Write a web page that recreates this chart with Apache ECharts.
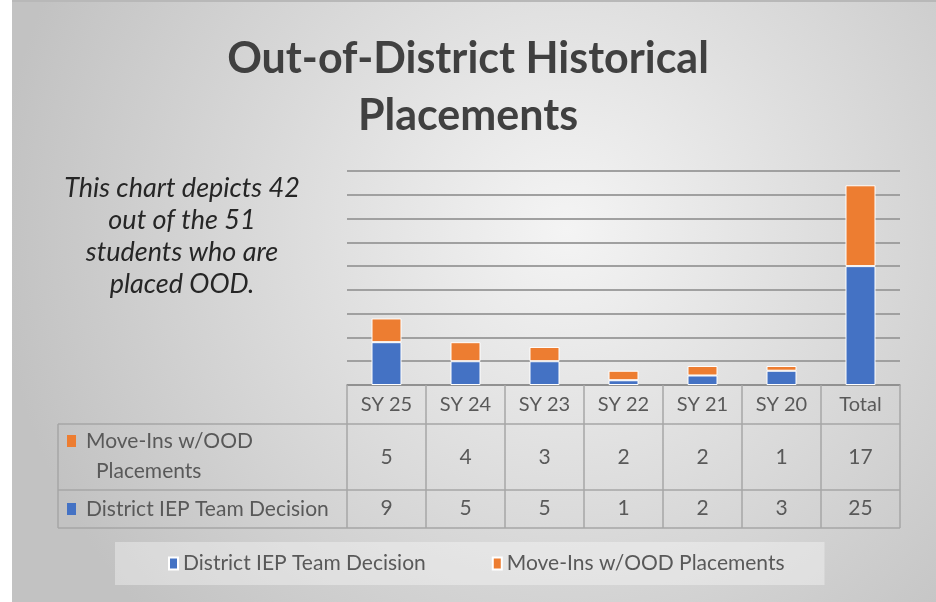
<!DOCTYPE html>
<html>
<head>
<meta charset="utf-8">
<script src="https://cdn.jsdelivr.net/npm/echarts@6/dist/echarts.min.js"></script>
<style>
  html, body { margin: 0; padding: 0; background: #fff; }
  #chart { width: 936px; height: 602px; }
</style>
</head>
<body>
<div id="chart"></div>
<script>
// chart data
const categories = ['SY 25', 'SY 24', 'SY 23', 'SY 22', 'SY 21', 'SY 20', 'Total']
const districtDecision = [9, 5, 5, 1, 2, 3, 25]
const moveIns = [5, 4, 3, 2, 2, 1, 17]
const seriesNames = ['District IEP Team Decision', 'Move-Ins w/OOD Placements']

const BLUE = '#4472c4'
const ORANGE = '#ed7d31'
const TEXT = '#595959'
const LINE = '#a6a6a6'
const FONT = 'Lato, "Open Sans", sans-serif'

const chart = echarts.init(document.getElementById('chart'))

// extra x axes used as the data table rows
function tableRow(values, offset) {
  return {
    type: 'category',
    data: categories,
    position: 'bottom',
    offset: offset,
    axisLine: { show: false },
    axisTick: { show: false },
    axisLabel: {
      interval: 0,
      margin: 0,
      verticalAlign: 'middle',
      color: TEXT,
      fontFamily: FONT,
      fontSize: 21,
      formatter: (v, i) => String(values[i])
    }
  }
}

chart.setOption({
  backgroundColor: '#fff',
  animation: false,
  title: {
    text: 'Out-of-District Historical\nPlacements',
    left: 'center',
    top: 26,
    textStyle: {
      color: '#404040',
      fontFamily: FONT,
      fontWeight: 'bold',
      fontSize: 43,
      lineHeight: 57
    }
  },
  legend: {
    data: seriesNames,
    left: 115,
    top: 542,
    padding: [11, 40, 11, 53],
    itemGap: 66,
    itemWidth: 9,
    itemHeight: 12,
    icon: 'rect',
    backgroundColor: 'rgba(255,255,255,0.35)',
    textStyle: { color: TEXT, fontFamily: FONT, fontSize: 21 }
  },
  grid: { left: 347, right: 36, top: 171, bottom: 217 },
  xAxis: [
    {
      type: 'category',
      data: categories,
      axisLine: { lineStyle: { color: '#8c8c8c', width: 1.5 } },
      axisTick: {
        show: true,
        interval: 0,
        length: 143,
        lineStyle: { color: LINE, width: 1.5 }
      },
      axisLabel: {
        interval: 0,
        margin: 10,
        color: TEXT,
        fontFamily: FONT,
        fontSize: 20
      }
    },
    tableRow(moveIns, 72),
    tableRow(districtDecision, 123)
  ],
  yAxis: {
    type: 'value',
    min: 0,
    max: 45,
    interval: 5,
    axisLabel: { show: false },
    axisLine: { show: false },
    axisTick: { show: false },
    splitLine: { lineStyle: { color: '#a0a0a0', width: 1.8 } }
  },
  series: [
    {
      name: seriesNames[0],
      type: 'bar',
      stack: 'ood',
      barWidth: 30,
      data: districtDecision,
      itemStyle: { color: BLUE, borderColor: '#fff', borderWidth: 1 }
    },
    {
      name: seriesNames[1],
      type: 'bar',
      stack: 'ood',
      barWidth: 30,
      data: moveIns,
      itemStyle: { color: ORANGE, borderColor: '#fff', borderWidth: 1 }
    }
  ],
  graphic: [
    // background
    {
      type: 'rect',
      z: -10,
      silent: true,
      shape: { x: 12, y: 1, width: 924, height: 601 },
      style: {
        fill: {
          type: 'radial', x: 0.6, y: 0.38, r: 0.95,
          colorStops: [
            { offset: 0, color: '#f4f4f4' },
            { offset: 1, color: '#c2c2c2' }
          ]
        }
      }
    },
    {
      type: 'rect',
      z: -9,
      silent: true,
      shape: { x: 12, y: 0, width: 924, height: 2 },
      style: { fill: '#b8b8b8' }
    },
    // note on the left
    {
      type: 'text',
      x: 182,
      y: 172,
      style: {
        text: 'This chart depicts 42\nout of the 51\nstudents who are\nplaced OOD.',
        align: 'center',
        fill: '#262626',
        font: 'italic 27px ' + FONT,
        lineHeight: 32
      }
    },
    // table horizontal borders
    { type: 'line', shape: { x1: 58, y1: 424, x2: 900, y2: 424 }, style: { stroke: LINE, lineWidth: 1.5 } },
    { type: 'line', shape: { x1: 58, y1: 490, x2: 900, y2: 490 }, style: { stroke: LINE, lineWidth: 1.5 } },
    { type: 'line', shape: { x1: 58, y1: 528, x2: 900, y2: 528 }, style: { stroke: LINE, lineWidth: 1.5 } },
    { type: 'line', shape: { x1: 58, y1: 424, x2: 58, y2: 528 }, style: { stroke: LINE, lineWidth: 1.5 } },
    // row labels
    { type: 'rect', shape: { x: 67, y: 435, width: 9, height: 12 }, style: { fill: ORANGE } },
    {
      type: 'text',
      x: 86, y: 441,
      style: { text: 'Move-Ins w/OOD', verticalAlign: 'middle', fill: TEXT, font: '21px ' + FONT }
    },
    {
      type: 'text',
      x: 96, y: 471,
      style: { text: 'Placements', verticalAlign: 'middle', fill: TEXT, font: '21px ' + FONT }
    },
    { type: 'rect', shape: { x: 67, y: 503, width: 9, height: 12 }, style: { fill: BLUE } },
    {
      type: 'text',
      x: 86, y: 509,
      style: { text: 'District IEP Team Decision', verticalAlign: 'middle', fill: TEXT, font: '21px ' + FONT }
    }
  ]
})
</script>
</body>
</html>
